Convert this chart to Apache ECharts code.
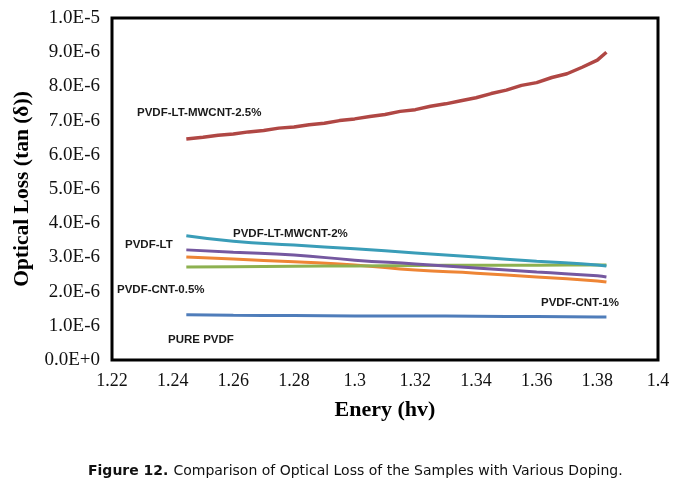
<!DOCTYPE html>
<html>
<head>
<meta charset="utf-8">
<script src="https://cdn.jsdelivr.net/npm/echarts@6/dist/echarts.min.js"></script>
<style>
html,body{margin:0;padding:0;background:#fff;}
#chart{width:677px;height:485px;}
</style>
</head>
<body>
<div id="chart"></div>
<script>
// Energy (hv) sample points
const xRed = [1.2445,1.25,1.255,1.26,1.265,1.27,1.275,1.28,1.285,1.29,1.295,1.30,1.305,1.31,1.315,1.32,1.325,1.33,1.335,1.34,1.345,1.35,1.355,1.36,1.365,1.37,1.375,1.38,1.383];
const yRed = [6.46,6.51,6.57,6.61,6.67,6.71,6.78,6.81,6.88,6.92,7.00,7.05,7.12,7.18,7.27,7.32,7.42,7.49,7.58,7.67,7.79,7.89,8.03,8.11,8.26,8.37,8.56,8.77,9.00];

const xOther = [1.2445,1.26,1.28,1.30,1.32,1.34,1.36,1.38,1.383];
const yTeal   = [3.63,3.47,3.36,3.25,3.13,3.01,2.89,2.78,2.75];
const yPurple = [3.22,3.15,3.07,2.92,2.81,2.69,2.57,2.46,2.43];
const yOrange = [3.01,2.95,2.87,2.78,2.63,2.54,2.43,2.31,2.28];
const yGreen  = [2.72,2.73,2.74,2.75,2.76,2.77,2.77,2.78,2.78];
const yBlue   = [1.32,1.31,1.30,1.29,1.29,1.28,1.27,1.26,1.26];

const scale = 1e-6;
const seriesNames = ['PVDF-LT-MWCNT-2.5%','PVDF-LT-MWCNT-2%','PVDF-LT','PVDF-CNT-0.5%','PVDF-CNT-1%','PURE PVDF'];
const xTicks = [1.22,1.24,1.26,1.28,1.3,1.32,1.34,1.36,1.38,1.4];

function pairs(xs, ys){ return xs.map((x,i)=>[x, ys[i]*scale]); }

const chart = echarts.init(document.getElementById('chart'));
const lbl = {fontFamily:'Liberation Sans', fontWeight:'bold', fontSize:11.5, fill:'#1a1a1a'};
function txt(t, x, y){ return {type:'text', left:x, top:y, style:Object.assign({text:t}, lbl)}; }

chart.setOption({
  animation:false,
  backgroundColor:'#fff',
  title:{
    text:'{b|Figure 12.} {r|Comparison of Optical Loss of the Samples with Various Doping.}',
    left:83, top:457,
    textStyle:{fontWeight:'normal', rich:{
      b:{fontFamily:'DejaVu Sans', fontWeight:'bold', fontSize:14, color:'#111'},
      r:{fontFamily:'DejaVu Sans', fontWeight:'normal', fontSize:14, color:'#111'}
    }}
  },
  grid:{left:112, top:18, right:19, bottom:125, show:true, borderColor:'#000', borderWidth:3, backgroundColor:'#fff'},
  xAxis:{
    type:'value', min:1.22, max:1.4, interval:0.02,
    name:'Enery (hv)', nameLocation:'middle', nameGap:39,
    nameTextStyle:{fontFamily:'Liberation Serif', fontWeight:'bold', fontSize:22, color:'#000'},
    axisLine:{show:false}, axisTick:{show:false}, splitLine:{show:false},
    axisLabel:{fontFamily:'Liberation Serif', fontSize:18, color:'#111', margin:12,
      formatter:v=>String(parseFloat(v.toFixed(2)))}
  },
  yAxis:{
    type:'value', min:0, max:1e-5, interval:1e-6,
    name:'Optical Loss (tan (δ))', nameLocation:'middle', nameGap:77,
    nameTextStyle:{fontFamily:'Liberation Serif', fontWeight:'bold', fontSize:21.5, color:'#000'},
    axisLine:{show:false}, axisTick:{show:false}, splitLine:{show:false},
    axisLabel:{fontFamily:'Liberation Serif', fontSize:19, color:'#111', margin:12,
      formatter:v=>v.toExponential(1).toUpperCase()}
  },
  series:[
    {name:seriesNames[5], type:'line', data:pairs(xOther,yBlue), showSymbol:false, smooth:true, lineStyle:{color:'#4F7DBA', width:3}},
    {name:seriesNames[4], type:'line', data:pairs(xOther,yOrange), showSymbol:false, smooth:true, lineStyle:{color:'#EE8535', width:3}},
    {name:seriesNames[3], type:'line', data:pairs(xOther,yGreen), showSymbol:false, smooth:true, lineStyle:{color:'#8DB150', width:3}},
    {name:seriesNames[2], type:'line', data:pairs(xOther,yPurple), showSymbol:false, smooth:true, lineStyle:{color:'#7558A0', width:3}},
    {name:seriesNames[1], type:'line', data:pairs(xOther,yTeal), showSymbol:false, smooth:true, lineStyle:{color:'#3A9DB8', width:3}},
    {name:seriesNames[0], type:'line', data:pairs(xRed,yRed), showSymbol:false, lineStyle:{color:'#B04744', width:3.5}}
  ],
  graphic:[
    txt(seriesNames[0], 137, 107),
    txt(seriesNames[1], 233, 228),
    txt(seriesNames[2], 125, 239),
    txt(seriesNames[3], 117, 284),
    txt(seriesNames[4], 541, 297),
    txt(seriesNames[5], 168, 334)
  ]
});
</script>
</body>
</html>
